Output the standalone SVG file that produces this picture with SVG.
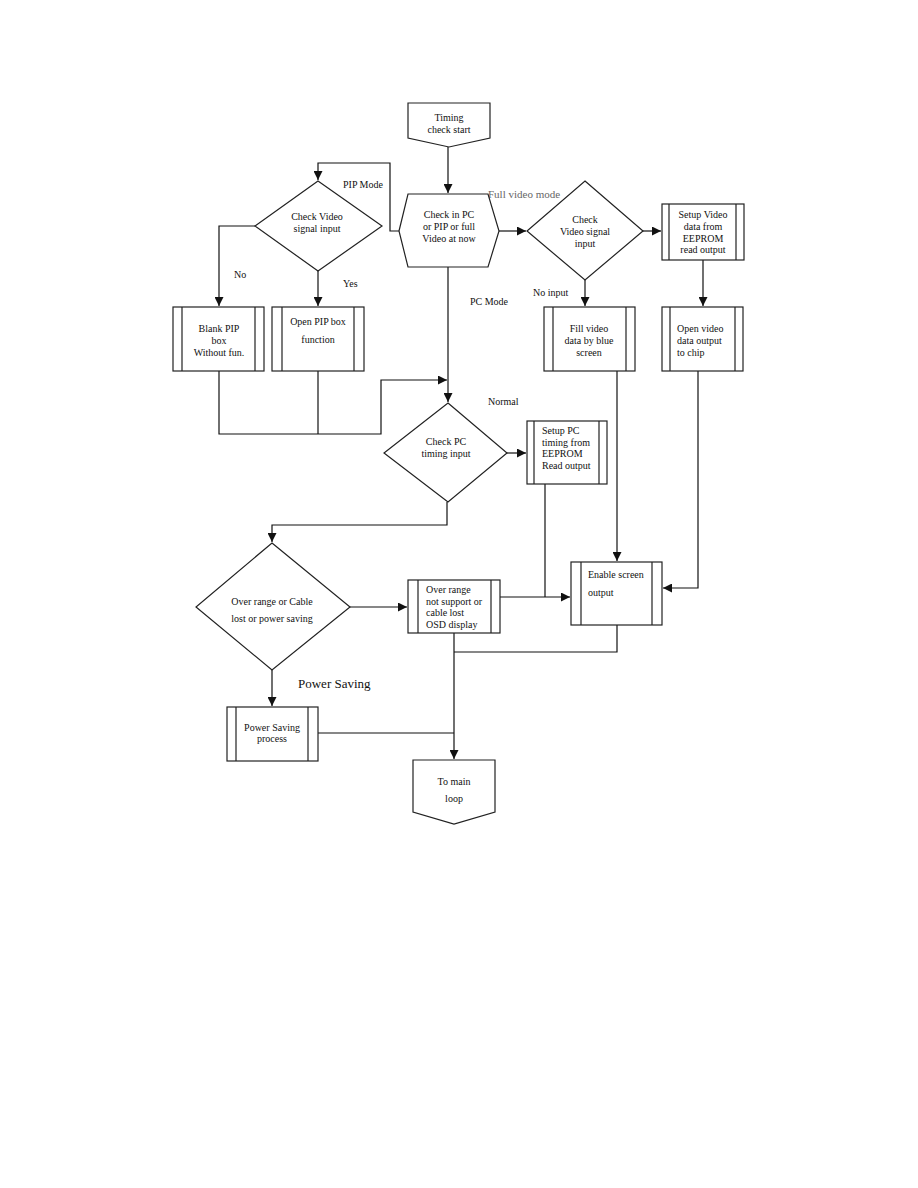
<svg xmlns="http://www.w3.org/2000/svg" width="918" height="1188" viewBox="0 0 918 1188">
<style>
.s{fill:#fff;stroke:#222;stroke-width:1.2}
.in{stroke:#222;stroke-width:1.2;fill:none}
.c{fill:none;stroke:#111;stroke-width:1.2}
text{font-family:"Liberation Serif","Times New Roman",serif;font-size:10px;fill:#111}
.m{text-anchor:middle}
.lb{font-size:10px}
.big{font-size:13px}
.gray{fill:#666;font-size:11px}
</style>
<defs>
<marker id="a" viewBox="0 0 10 10" refX="10" refY="5" markerWidth="9" markerHeight="9" markerUnits="userSpaceOnUse" orient="auto"><path d="M0,0 L10,5 L0,10 z" fill="#111"/></marker>
</defs>
<rect width="918" height="1188" fill="#fff"/>
<g id="connectors">
<path class="c" d="M448,147 V193" marker-end="url(#a)"/>
<path class="c" d="M499,231 H526" marker-end="url(#a)"/>
<path class="c" d="M643,231 H661" marker-end="url(#a)"/>
<path class="c" d="M703,260 V306" marker-end="url(#a)"/>
<path class="c" d="M585,280 V306" marker-end="url(#a)"/>
<path class="c" d="M399,231 H390 V163 H318 V180" marker-end="url(#a)"/>
<path class="c" d="M255,226 H219 V306" marker-end="url(#a)"/>
<path class="c" d="M318,271 V306" marker-end="url(#a)"/>
<path class="c" d="M219,371 V434 H381 V380 H447" marker-end="url(#a)"/>
<path class="c" d="M318,371 V434"/>
<path class="c" d="M448,267 V402" marker-end="url(#a)"/>
<path class="c" d="M507,453 H526" marker-end="url(#a)"/>
<path class="c" d="M447,502 V525 H272 V542" marker-end="url(#a)"/>
<path class="c" d="M350,607 H407" marker-end="url(#a)"/>
<path class="c" d="M617,371 V561" marker-end="url(#a)"/>
<path class="c" d="M698,371 V588 H663" marker-end="url(#a)"/>
<path class="c" d="M500,597 H570" marker-end="url(#a)"/>
<path class="c" d="M545,484 V597"/>
<path class="c" d="M617,625 V652 H454"/>
<path class="c" d="M454,633 V759" marker-end="url(#a)"/>
<path class="c" d="M272,670 V706" marker-end="url(#a)"/>
<path class="c" d="M318,733 H454"/>
</g>
<g id="labels">
<text x="488" y="198" class="gray">Full video mode</text>
<text x="343" y="188" class="lb">PIP Mode</text>
<text x="234" y="278" class="lb">No</text>
<text x="343" y="287" class="lb">Yes</text>
<text x="533" y="296" class="lb">No input</text>
<text x="470" y="305" class="lb">PC Mode</text>
<text x="488" y="405" class="lb">Normal</text>
<text x="298" y="688" class="big">Power Saving</text>
</g>
<g id="start">
<path class="s" d="M408,103 H490 V138 L449,147 L408,138 Z"/>
<text x="449" y="121" class="m">Timing</text>
<text x="449" y="133" class="m">check start</text>
</g>
<g id="check-mode">
<path class="s" d="M399,231 L408,194 H488 L499,231 L488,267 H408 Z"/>
<text x="449" y="218" class="m">Check in PC</text>
<text x="449" y="230" class="m">or PIP or full</text>
<text x="449" y="242" class="m">Video at now</text>
</g>
<g id="check-video-full">
<path class="s" d="M585,181 L643,231 L585,280 L527,231 Z"/>
<text x="585" y="223" class="m">Check</text>
<text x="585" y="235" class="m">Video signal</text>
<text x="585" y="247" class="m">input</text>
</g>
<g id="setup-video">
<rect class="s" x="662" y="204" width="82" height="56"/>
<path class="in" d="M669,204 V260 M736,204 V260"/>
<text x="703" y="218" class="m">Setup Video</text>
<text x="703" y="230" class="m">data from</text>
<text x="703" y="242" class="m">EEPROM</text>
<text x="703" y="253" class="m">read output</text>
</g>
<g id="open-video">
<rect class="s" x="662" y="307" width="81" height="64"/>
<path class="in" d="M670,307 V371 M735,307 V371"/>
<text x="677" y="332">Open video</text>
<text x="677" y="344">data output</text>
<text x="677" y="356">to chip</text>
</g>
<g id="fill-video">
<rect class="s" x="544" y="307" width="91" height="64"/>
<path class="in" d="M553,307 V371 M626,307 V371"/>
<text x="589" y="332" class="m">Fill video</text>
<text x="589" y="344" class="m">data by blue</text>
<text x="589" y="356" class="m">screen</text>
</g>
<g id="check-video-pip">
<path class="s" d="M318,181 L382,226 L318,271 L255,226 Z"/>
<text x="317" y="220" class="m">Check Video</text>
<text x="317" y="232" class="m">signal input</text>
</g>
<g id="blank-pip">
<rect class="s" x="173" y="307" width="91" height="64"/>
<path class="in" d="M182,307 V371 M255,307 V371"/>
<text x="219" y="332" class="m">Blank PIP</text>
<text x="219" y="344" class="m">box</text>
<text x="219" y="356" class="m">Without fun.</text>
</g>
<g id="open-pip">
<rect class="s" x="272" y="307" width="92" height="64"/>
<path class="in" d="M282,307 V371 M354,307 V371"/>
<text x="318" y="325" class="m">Open PIP box</text>
<text x="318" y="343" class="m">function</text>
</g>
<g id="check-pc">
<path class="s" d="M448,403 L507,453 L448,502 L384,453 Z"/>
<text x="446" y="445" class="m">Check PC</text>
<text x="446" y="457" class="m">timing input</text>
</g>
<g id="setup-pc">
<rect class="s" x="527" y="421" width="80" height="63"/>
<path class="in" d="M534,421 V484 M599,421 V484"/>
<text x="542" y="434">Setup PC</text>
<text x="542" y="446">timing from</text>
<text x="542" y="457">EEPROM</text>
<text x="542" y="469">Read output</text>
</g>
<g id="over-range-check">
<path class="s" d="M272,543 L350,607 L272,670 L196,607 Z"/>
<text x="272" y="605" class="m">Over range or Cable</text>
<text x="272" y="622" class="m">lost or power saving</text>
</g>
<g id="over-range-osd">
<rect class="s" x="408" y="580" width="92" height="53"/>
<path class="in" d="M418,580 V633 M491,580 V633"/>
<text x="426" y="593">Over range</text>
<text x="426" y="605">not support or</text>
<text x="426" y="616">cable lost</text>
<text x="426" y="628">OSD display</text>
</g>
<g id="enable-screen">
<rect class="s" x="571" y="562" width="91" height="63"/>
<path class="in" d="M581,562 V625 M652,562 V625"/>
<text x="588" y="578">Enable screen</text>
<text x="588" y="596">output</text>
</g>
<g id="power-saving">
<rect class="s" x="227" y="707" width="91" height="54"/>
<path class="in" d="M236,707 V761 M308,707 V761"/>
<text x="272" y="731" class="m">Power Saving</text>
<text x="272" y="742" class="m">process</text>
</g>
<g id="main-loop">
<path class="s" d="M413,760 H495 V812 L454,824 L413,812 Z"/>
<text x="454" y="785" class="m">To main</text>
<text x="454" y="802" class="m">loop</text>
</g>
</svg>
